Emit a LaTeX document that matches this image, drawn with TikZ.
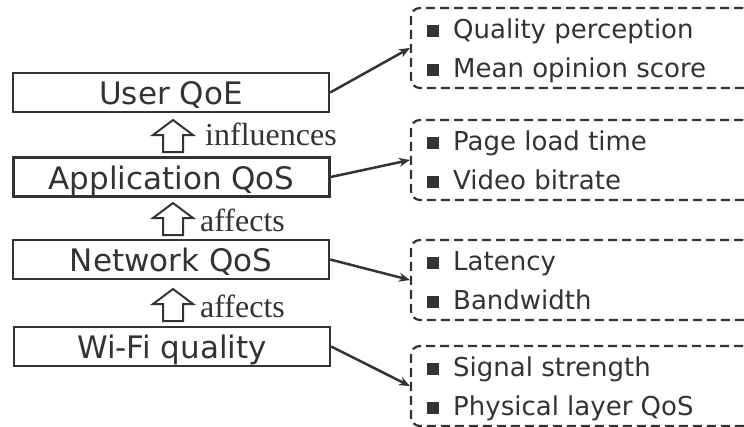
\documentclass[tikz,border=0pt]{standalone}
\usepackage{fontspec}
\newfontfamily\dv{DejaVu Sans}
\newfontfamily\ser{Liberation Serif}
\usetikzlibrary{arrows.meta}
\definecolor{ink}{HTML}{333333}
\newcommand\blockup[2]{%
  \draw[uparr] ({#1-20},{#2+15}) -- (#1,#2) -- ({#1+20},{#2+15}) -- ({#1+10},{#2+15})
    -- ({#1+10},{#2+32}) -- ({#1-10},{#2+32}) -- ({#1-10},{#2+15}) -- cycle;}
\begin{document}
\begin{tikzpicture}[x=1pt,y=-1pt,
  mainbox/.style={draw=ink, line width=2.4pt, fill=white, minimum width=316pt, minimum height=39pt,
    inner sep=0pt, font=\dv\fontsize{31}{36}\selectfont, text=ink, text height=24pt, text depth=0pt},
  listbox/.style={draw=ink, line width=2.2pt, dash pattern=on 9pt off 5pt, rounded corners=9pt,
    minimum width=341pt, minimum height=80pt, inner sep=0pt},
  item/.style={anchor=base west, inner sep=0pt, font=\dv\fontsize{26}{30}\selectfont, text=ink},
  bul/.style={fill=ink, minimum size=12.5pt, inner sep=0pt},
  uparr/.style={draw=ink, line width=2pt, fill=white},
  lab/.style={anchor=base west, inner sep=0pt, font=\ser\fontsize{32}{36}\selectfont, text=ink},
  conn/.style={draw=ink, line width=2.5pt, -{Stealth[length=11pt,width=9pt]}}
]
\useasboundingbox (0,0) rectangle (744,426);
\fill[white] (0,0) rectangle (744,426);
\clip (0,0) rectangle (744,426);

% main boxes
\node[mainbox] (uq) at (171,92.5) {User QoE};
\node[mainbox] (aq) at (171.5,177) {Application QoS};
\node[mainbox] (nq) at (171,259.5) {Network QoS};
\node[mainbox] (wq) at (172,346.5) {Wi-Fi quality};

% block arrows and labels
\blockup{173}{120}
\node[lab] (l1) at (205,145) {influences};
\blockup{173}{203}
\node[lab] (l2) at (200,231) {affects};
\blockup{173}{289}
\node[lab] (l3) at (200,317) {affects};

% dashed list boxes
\node[listbox] (d1) at (581.5,48) {};
\node[listbox] (d2) at (581.5,160) {};
\node[listbox] (d3) at (581.5,280) {};
\node[listbox] (d4) at (581.5,386) {};

% items
\node[bul] (b11) at (433,31) {};
\node[item] (t11) at (453,38) {Quality perception};
\node[bul] (b12) at (433,70) {};
\node[item] (t12) at (453,77) {Mean opinion score};

\node[bul] (b21) at (433,143) {};
\node[item] (t21) at (453,150) {Page load time};
\node[bul] (b22) at (433,182) {};
\node[item] (t22) at (453,189) {Video bitrate};

\node[bul] (b31) at (433,263) {};
\node[item] (t31) at (453,270) {Latency};
\node[bul] (b32) at (433,302) {};
\node[item] (t32) at (453,309) {Bandwidth};

\node[bul] (b41) at (433,369) {};
\node[item] (t41) at (453,376) {Signal strength};
\node[bul] (b42) at (433,408) {};
\node[item] (t42) at (453,415) {Physical layer QoS};

% connectors
\draw[conn] (uq.east) -- (d1.west);
\draw[conn] (aq.east) -- (d2.west);
\draw[conn] (nq.east) -- (d3.west);
\draw[conn] (wq.east) -- (d4.west);
\end{tikzpicture}
\end{document}
